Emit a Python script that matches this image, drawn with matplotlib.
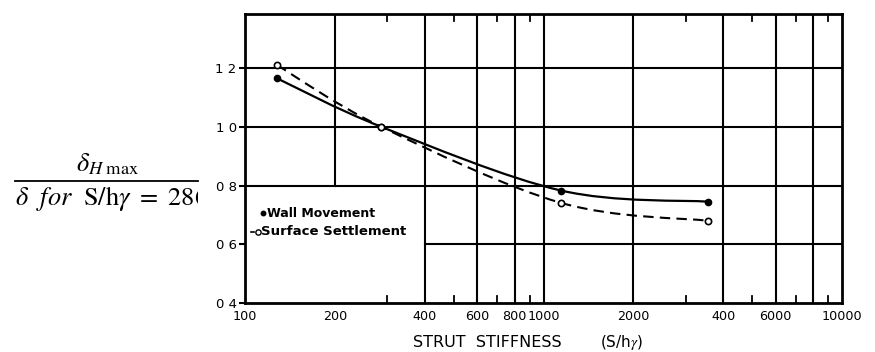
import numpy as np
import matplotlib
matplotlib.use("Agg")
import matplotlib.pyplot as plt
from matplotlib.path import Path
from matplotlib.patches import PathPatch
from matplotlib.transforms import Bbox, TransformedBbox

plt.rcParams['font.family'] = ['DejaVu Sans']
plt.rcParams['mathtext.fontset'] = 'stix'

# Measured response vs. strut stiffness, normalised to S/h*gamma = 286
stiffness = [128, 286, 1144, 3560]
wall_movement = [1.165, 1.00, 0.783, 0.745]
surface_settlement = [1.21, 1.00, 0.741, 0.68]

x_grid = [200, 400, 600, 800, 1000, 2000, 4000, 6000, 8000]
x_minor = [300, 500, 700, 900, 3000, 5000, 7000, 9000]
x_tick_vals = [100, 200, 400, 600, 800, 1000, 2000, 4000, 6000, 10000]
x_tick_text = ["100", "200", "400", "600", "800", "1000", "2000", "400", "6000", "10000"]
y_tick_vals = [0.4, 0.6, 0.8, 1.0, 1.2]
y_tick_text = ["0 4", "0 6", "0 8", "1 0", "1 2"]

fig = plt.figure(figsize=(8.75, 3.52), dpi=100)
ax = fig.add_axes([245 / 875, 1 - 303 / 352, (842 - 245) / 875, (303 - 14) / 352])
ax.set_xscale('log')
ax.set_xlim(100, 10000)
ax.set_ylim(0.4, 1.384)

# grid: the legend box area at lower left is left open
for xv in x_grid:
    if xv == 200:
        ax.plot([xv, xv], [0.8, 1.384], color='black', lw=1.5, zorder=1)
    else:
        ax.axvline(xv, color='black', lw=1.5, zorder=1)
for yv in [0.8, 1.0, 1.2]:
    ax.axhline(yv, color='black', lw=1.5, zorder=1)
ax.plot([400, 10000], [0.6, 0.6], color='black', lw=1.5, zorder=1)

# short inward ticks at intermediate values, top and bottom
for xv in x_minor:
    ax.plot([xv, xv], [0.4, 0.425], color='black', lw=1.3, zorder=1)
    ax.plot([xv, xv], [1.384 - 0.025, 1.384], color='black', lw=1.3, zorder=1)

ax.set_xticks(x_tick_vals)
ax.set_xticklabels(x_tick_text, fontsize=9.2)
ax.xaxis.set_minor_locator(matplotlib.ticker.NullLocator())
ax.tick_params(axis='x', length=0, pad=5)
ax.set_yticks(y_tick_vals)
ax.set_yticklabels(y_tick_text, fontsize=9.5)
ax.tick_params(axis='y', direction='out', length=4, width=1.5, pad=2)
for s in ax.spines.values():
    s.set_linewidth(2.0)


def smooth_path(xs, ys):
    """Catmull-Rom curve through the points, built in log-x space."""
    lx = np.log10(xs)
    y = np.asarray(ys, dtype=float)
    n = len(lx)
    verts = [(xs[0], y[0])]
    codes = [Path.MOVETO]
    for i in range(n - 1):
        p0 = (lx[max(i - 1, 0)], y[max(i - 1, 0)])
        p1 = (lx[i], y[i])
        p2 = (lx[i + 1], y[i + 1])
        p3 = (lx[min(i + 2, n - 1)], y[min(i + 2, n - 1)])
        c1 = (p1[0] + (p2[0] - p0[0]) / 6, p1[1] + (p2[1] - p0[1]) / 6)
        c2 = (p2[0] - (p3[0] - p1[0]) / 6, p2[1] - (p3[1] - p1[1]) / 6)
        verts += [(10 ** c1[0], c1[1]), (10 ** c2[0], c2[1]), (10 ** p2[0], p2[1])]
        codes += [Path.CURVE4] * 3
    return Path(verts, codes)


ax.add_patch(PathPatch(smooth_path(stiffness, wall_movement), fill=False,
                       edgecolor='black', lw=1.6, zorder=3))
ax.add_patch(PathPatch(smooth_path(stiffness, surface_settlement), fill=False,
                       edgecolor='black', lw=1.5, ls=(0, (5, 3)), zorder=3))
ax.plot(stiffness, wall_movement, ls='none', marker='o', ms=4.5,
        mfc='black', mec='black', zorder=4)
ax.plot(stiffness, surface_settlement, ls='none', marker='o', ms=4.5,
        mfc='white', mec='black', mew=1.2, zorder=4)

# legend text inside the open lower-left box
ax.plot([115], [0.705], ls='none', marker='o', ms=3.2, mfc='black', mec='black')
ax.text(118.5, 0.705, "Wall Movement", fontsize=9, fontweight='bold', va='center')
ax.plot([104.5, 107.5], [0.643, 0.643], color='black', lw=1.2)
ax.plot([110.5], [0.643], ls='none', marker='o', ms=3.8, mfc='white', mec='black')
ax.text(113.5, 0.643, "Surface Settlement", fontsize=9.5, fontweight='bold', va='center')

# axis title
fig.text(413 / 875, 1 - 347 / 352, "STRUT  STIFFNESS", fontsize=11.5, va='baseline')
fig.text(600 / 875, 1 - 347 / 352, "(S/h$\\gamma$)", fontsize=11, va='baseline')

# vertical quantity written as a fraction on the left
fig.text(108 / 875, 1 - 171 / 352, r'$\delta_{H\ \mathrm{max}}$', fontsize=19,
         ha='center', va='baseline')
fig.add_artist(plt.Line2D([15 / 875, 198 / 875], [1 - 181 / 352, 1 - 181 / 352],
                          color='black', lw=1.3, transform=fig.transFigure))
den = fig.text(15 / 875, 1 - 205 / 352,
               r'$\delta\ \ \mathit{for}\ \ \mathrm{S/h}\gamma\ =\ 286$',
               fontsize=19, ha='left', va='baseline')
den.set_clip_box(TransformedBbox(Bbox([[0, 0], [198 / 875, 1]]), fig.transFigure))
den.set_clip_on(True)

fig.savefig("out.png", dpi=100, facecolor='white')
